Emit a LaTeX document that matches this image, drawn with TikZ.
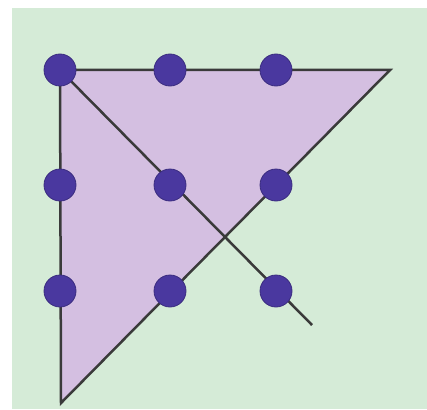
\documentclass[tikz,border=0pt]{standalone}
\usetikzlibrary{positioning, backgrounds}
\definecolor{boardgreen}{HTML}{D5EBD7}
\definecolor{trifill}{HTML}{D4BFE1}
\definecolor{dotblue}{HTML}{4A389F}
\definecolor{dotrim}{HTML}{3B2D80}
\definecolor{penline}{HTML}{3A3A3A}

\begin{document}
\begin{tikzpicture}[x=1pt, y=-1pt, node distance=110pt and 108pt, on grid,
        dot/.style={circle, fill=dotblue, draw=dotrim, line width=0.8pt, minimum size=32pt, inner sep=0pt},
        pen/.style={draw=penline, line width=2.5pt, line join=miter}]

        \useasboundingbox (0,0) rectangle (427,409);

        % Nodes
        \node[dot] (d11) at (60,70) {};
        \node[dot] (d12) [right=of d11, xshift=2pt] {};
        \node[dot] (d13) [right=of d12, xshift=-2pt] {};
        \node[dot] (d21) [below=of d11, yshift=-5pt] {};
        \node[dot] (d22) [right=of d21, xshift=2pt] {};
        \node[dot] (d23) [right=of d22, xshift=-2pt] {};
        \node[dot] (d31) [below=of d21, yshift=4pt] {};
        \node[dot] (d32) [right=of d31, xshift=2pt] {};
        \node[dot] (d33) [right=of d32, xshift=-2pt] {};

        % Corners of the triangle and end of the stroke
        \coordinate (topright) at (390,70);
        \coordinate (bottomleft) at (61,403);
        \coordinate (tail) at (312,325);

        % Lines
        \begin{scope}[on background layer]
            \fill[boardgreen] (12,8) rectangle (427,409);
            \path[pen, fill=trifill] (d11.center) -- (topright) -- (bottomleft) -- cycle;
            \draw[pen] (d11.center) -- (tail);
        \end{scope}
    \end{tikzpicture}
\end{document}
